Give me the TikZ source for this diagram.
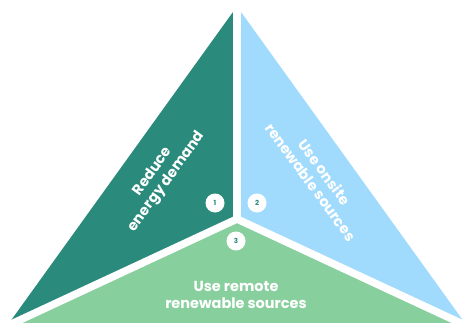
\documentclass[tikz,border=0pt]{standalone}
\usepackage{fontspec}
\setmainfont{Poppins}
\definecolor{teal}{HTML}{2A8A7B}
\definecolor{sky}{HTML}{A0DBFD}
\definecolor{leaf}{HTML}{88CF9E}
\tikzset{
  gap/.style={white, line width=7.5pt},
  lbl/.style={text=white, font=\bfseries\fontsize{14.5}{17}\selectfont, align=center, inner sep=0pt},
  num/.style={circle, fill=white, minimum size=19pt, inner sep=0pt, text=teal, font=\bfseries\fontsize{7}{8}\selectfont}
}
\begin{document}
\begin{tikzpicture}[x=1pt,y=-1pt]
\useasboundingbox (0,0) rectangle (462,323);
\clip (0,0) rectangle (462,323);
\coordinate (A) at (237,6.4);
\coordinate (B) at (7,326);
\coordinate (C) at (467,326);
\coordinate (O) at (237,219);
\fill[teal] (A) -- (B) -- (O) -- cycle;
\fill[sky] (A) -- (C) -- (O) -- cycle;
\fill[leaf] (B) -- (C) -- (O) -- cycle;
\draw[gap] (O) -- (A);
\draw[gap] (O) -- (B);
\draw[gap] (O) -- (C);
\node[lbl, rotate=54] (t1) at (160,177) {Reduce\\energy demand};
\node[lbl, rotate=-54] (t2) at (318,177) {Use onsite\\renewable sources};
\node[lbl] (t3) at (236,295) {Use remote\\renewable sources};
\node[num] (n1) at (215,203) {1};
\node[num] (n2) at (257,203) {2};
\node[num] (n3) at (236,241) {3};
\end{tikzpicture}
\end{document}
